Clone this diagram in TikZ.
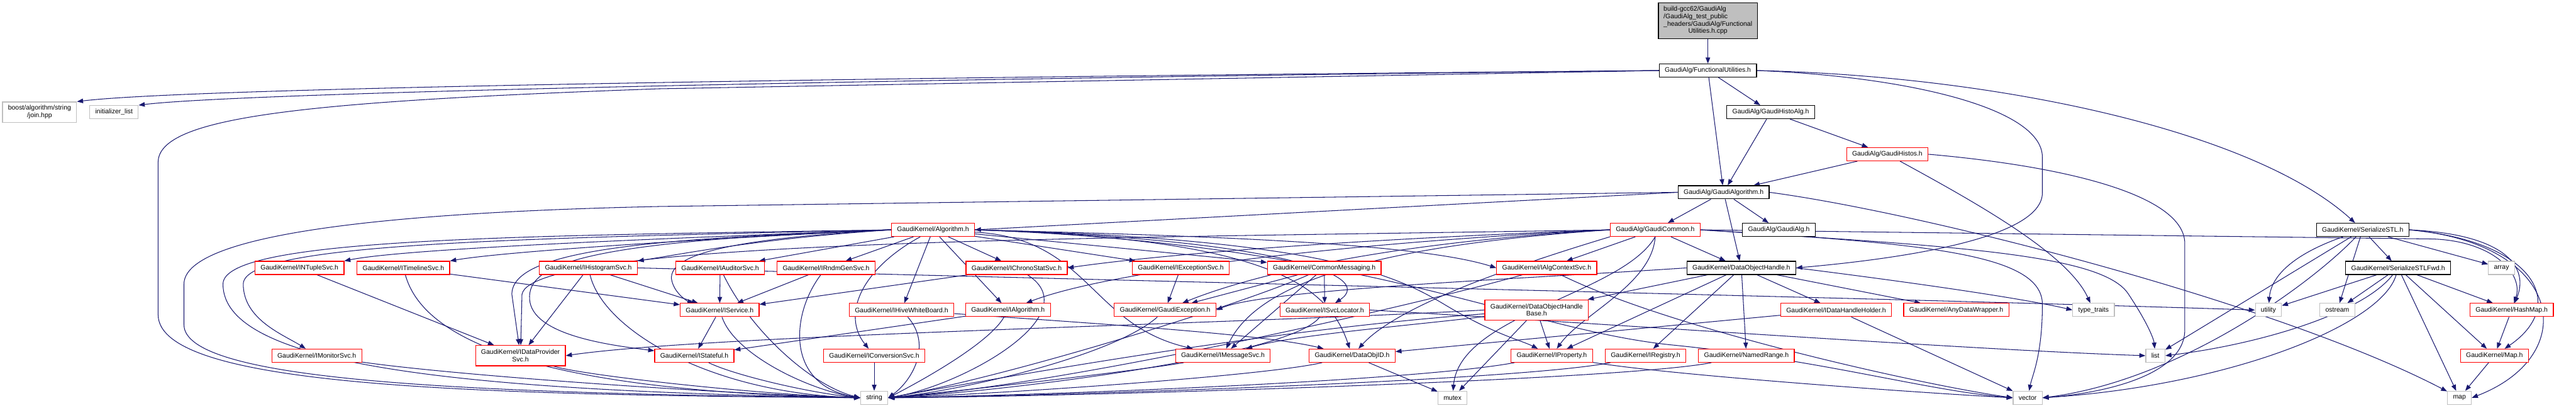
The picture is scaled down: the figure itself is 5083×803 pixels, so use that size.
\documentclass[tikz,border=0pt]{standalone}
\usepackage{fontspec}
\setmainfont{Liberation Sans}
\usetikzlibrary{arrows.meta}
\definecolor{edgec}{RGB}{25,25,112}
\definecolor{grayb}{RGB}{191,191,191}
\definecolor{redb}{RGB}{255,0,0}
\pgfdeclarelayer{bg}
\pgfsetlayers{bg,main}
\begin{document}
\begin{tikzpicture}[x=1pt,y=-1pt,
  font=\fontsize{13}{14.5}\selectfont,
  base/.style={draw, fill=white, line width=1.5pt, inner xsep=11pt, inner ysep=3pt, minimum height=26pt, align=center},
  rn/.style={base, draw=redb},
  bn/.style={base, draw=black},
  gn/.style={base, draw=grayb},
  mainbox/.style={draw=black, fill=grayb, line width=1.5pt, inner xsep=4pt, inner ysep=2pt, minimum width=195pt, minimum height=70pt},
  ed/.style={draw=edgec, line width=1.3pt, -{Triangle[length=12pt,width=9pt]}}]
\useasboundingbox (0,0) rectangle (5083,803);
% nodes
\node[mainbox] (main) at (3370,41) {\begin{tabular}{@{}l@{}}build-gcc62/GaudiAlg\\/GaudiAlg\_test\_public\\\_headers/GaudiAlg/Functional\\\multicolumn{1}{@{}c@{}}{Utilities.h.cpp}\end{tabular}};
\node[bn] (fu) at (3370,139) {GaudiAlg/FunctionalUtilities.h};
\node[gn, minimum height=40pt] (join) at (78,221) {boost/algorithm/string\\/join.hpp};
\node[gn] (init) at (225,221) {initializer\_list};
\node[bn] (gha) at (3494,221) {GaudiAlg/GaudiHistoAlg.h};
\node[rn] (ghs) at (3724,304) {GaudiAlg/GaudiHistos.h};
\node[bn] (galg) at (3401,379) {GaudiAlg/GaudiAlgorithm.h};
\node[rn] (algo) at (1841,453) {GaudiKernel/Algorithm.h};
\node[rn] (gcom) at (3266,453) {GaudiAlg/GaudiCommon.h};
\node[bn] (galgh) at (3510,453) {GaudiAlg/GaudiAlg.h};
\node[bn] (sstl) at (4662,453) {GaudiKernel/SerializeSTL.h};
% row 528
\node[rn] (ntup) at (591,528) {GaudiKernel/INTupleSvc.h};
\node[rn] (tline) at (796,528) {GaudiKernel/ITimelineSvc.h};
\node[rn] (hist) at (1161,528) {GaudiKernel/IHistogramSvc.h};
\node[rn] (aud) at (1421,528) {GaudiKernel/IAuditorSvc.h};
\node[rn] (rndm) at (1630,528) {GaudiKernel/IRndmGenSvc.h};
\node[rn] (chrono) at (2006,528) {GaudiKernel/IChronoStatSvc.h};
\node[rn] (exc) at (2330,528) {GaudiKernel/IExceptionSvc.h};
\node[rn] (cmsg) at (2613,528) {GaudiKernel/CommonMessaging.h};
\node[rn] (actx) at (3052,528) {GaudiKernel/IAlgContextSvc.h};
\node[bn] (doh) at (3436,528) {GaudiKernel/DataObjectHandle.h};
\node[bn] (sfwd) at (4732,528) {GaudiKernel/SerializeSTLFwd.h};
\node[gn] (arr) at (4936,528) {array};
% row 611
\node[rn] (isvc) at (1420,611) {GaudiKernel/IService.h};
\node[rn] (hive) at (1779,611) {GaudiKernel/IHiveWhiteBoard.h};
\node[rn] (ialg) at (1989,611) {GaudiKernel/IAlgorithm.h};
\node[rn] (gexc) at (2299,611) {GaudiKernel/GaudiException.h};
\node[rn] (svcloc) at (2614,611) {GaudiKernel/ISvcLocator.h};
\node[rn, minimum height=40pt] (dohb) at (3032,611) {GaudiKernel/DataObjectHandle\\Base.h};
\node[rn] (dhh) at (3623,611) {GaudiKernel/IDataHandleHolder.h};
\node[rn] (adw) at (3860,611) {GaudiKernel/AnyDataWrapper.h};
\node[gn] (tt) at (4131,611) {type\_traits};
\node[gn] (util) at (4476,611) {utility};
\node[gn] (ostr) at (4612,611) {ostream};
\node[rn] (hmap) at (4956,611) {GaudiKernel/HashMap.h};
% row 701
\node[rn] (mon) at (625,701) {GaudiKernel/IMonitorSvc.h};
\node[rn, minimum height=40pt] (dps) at (1027,701) {GaudiKernel/IDataProvider\\Svc.h};
\node[rn] (stat) at (1370,701) {GaudiKernel/IStateful.h};
\node[rn] (conv) at (1725,701) {GaudiKernel/IConversionSvc.h};
\node[rn] (msg) at (2413,701) {GaudiKernel/IMessageSvc.h};
\node[rn] (doid) at (2668,701) {GaudiKernel/DataObjID.h};
\node[rn] (prop) at (3062,701) {GaudiKernel/IProperty.h};
\node[rn] (reg) at (3247,701) {GaudiKernel/IRegistry.h};
\node[rn] (nr) at (3446,701) {GaudiKernel/NamedRange.h};
\node[gn] (list) at (4253,701) {list};
\node[rn] (mapH) at (4922,701) {GaudiKernel/Map.h};
% row 784
\node[gn] (string) at (1725,784) {string};
\node[gn] (mutex) at (2866,784) {mutex};
\node[gn] (vector) at (4001,784) {vector};
\node[gn] (map) at (4853,784) {map};

\begin{pgfonlayer}{bg}
% top part
\draw[ed] (main) -- (fu);
\draw[ed] (fu.west) .. controls (2000,150) and (400,170) .. (join.north east);
\draw[ed] (fu.west) .. controls (2000,152) and (500,180) .. (init.north east);
\draw[ed] (fu.west) -- (1300,175) .. controls (600,200) and (312,230) .. (312,320) -- (312,620) .. controls (312,760) and (900,778) .. (string.west);
\draw[ed] (fu) -- (gha);
\draw[ed] (fu) -- (galg);
\draw[ed] (fu.east) .. controls (3750,150) and (4030,210) .. (4030,310) -- (4030,380) .. controls (4030,470) and (3750,510) .. (doh.east);
\draw[ed] (fu.east) .. controls (3950,150) and (4450,260) .. (sstl);
\draw[ed] (gha) -- (galg);
\draw[ed] (gha) -- (ghs);
\draw[ed] (ghs) -- (galg);
\draw[ed] (ghs) .. controls (3900,400) and (4080,500) .. (tt);
\draw[ed] (ghs.east) .. controls (4100,330) and (4311,390) .. (4311,480) -- (4311,650) .. controls (4311,740) and (4150,775) .. (vector.east);
\draw[ed] (galg.west) -- (algo.east);
\draw[ed] (galg.west) -- (1300,407) .. controls (700,420) and (363,470) .. (363,560) -- (363,640) .. controls (363,750) and (900,775) .. (string.west);
\draw[ed] (galg) -- (gcom);
\draw[ed] (galg) -- (galgh);
\draw[ed] (galg) -- (doh);
\draw[ed] (galg.east) .. controls (3800,420) and (4500,600) .. (map);
% Algorithm.h
\draw[ed] (algo.west) .. controls (1300,470) and (800,490) .. (ntup.north east);
\draw[ed] (algo.west) .. controls (1400,470) and (1000,495) .. (tline.north east);
\draw[ed] (algo.west) .. controls (1500,470) and (1350,500) .. (hist.north east);
\draw[ed] (algo.west) .. controls (1000,465) and (440,470) .. (440,560) .. controls (440,720) and (900,770) .. (string.west);
\draw[ed] (algo.west) .. controls (1000,470) and (480,480) .. (480,560) .. controls (480,630) and (560,660) .. (mon);
\draw[ed] (algo.west) .. controls (1300,470) and (1010,490) .. (1010,580) -- (dps);
\draw[ed] (algo.west) .. controls (1150,475) and (1040,520) .. (1045,590) .. controls (1050,660) and (1200,680) .. (stat);
\draw[ed] (algo.west) .. controls (1450,470) and (1320,500) .. (1325,550) .. controls (1330,580) and (1360,595) .. (isvc);
\draw[ed] (algo) -- (aud);
\draw[ed] (algo) -- (rndm);
\draw[ed] (algo) -- (chrono);
\draw[ed] (algo) -- (exc);
\draw[ed] (algo) -- (cmsg);
\draw[ed] (algo) -- (hive);
\draw[ed] (algo) -- (ialg);
\draw[ed] (algo) .. controls (1700,530) and (1660,620) .. (conv);
\draw[ed] (algo) .. controls (2150,470) and (2150,640) .. (msg);
\draw[ed] (algo.east) .. controls (2400,465) and (2800,480) .. (actx.west);
\draw[ed] (algo.east) .. controls (2600,470) and (2750,540) .. (2850,600) .. controls (2950,660) and (3000,670) .. (prop);
\draw[ed] (algo.east) .. controls (2500,470) and (2620,560) .. (doid);
\draw[ed] (algo.east) .. controls (2500,470) and (2720,540) .. (svcloc);
\draw[ed] (algo.east) .. controls (2700,480) and (3000,650) .. (3300,680) .. controls (3600,710) and (3800,770) .. (vector.west);
% GaudiCommon.h
\draw[ed] (gcom.west) .. controls (2700,470) and (2300,500) .. (chrono.east);
\draw[ed] (gcom) -- (actx);
\draw[ed] (gcom) -- (doh);
\draw[ed] (gcom.west) .. controls (2700,475) and (2200,530) .. (ialg);
\draw[ed] (gcom.west) .. controls (2700,480) and (2450,550) .. (gexc);
\draw[ed] (gcom.west) .. controls (2700,485) and (2480,560) .. (msg);
\draw[ed] (gcom.west) .. controls (2200,470) and (1050,470) .. (1030,580) -- (dps);
\draw[ed] (gcom.south west) .. controls (3000,520) and (2760,600) .. (doid);
\draw[ed] (gcom.south) .. controls (3200,580) and (2880,620) .. (mutex);
\draw[ed] (gcom.south) .. controls (3260,560) and (3120,620) .. (prop);
\draw[ed] (gcom.east) -- (4800,471) .. controls (4920,475) and (4980,540) .. (hmap);
\draw[ed] (gcom.east) .. controls (3800,480) and (4030,500) .. (4030,600) .. controls (4030,700) and (4010,740) .. (vector);
\draw[ed] (gcom.east) .. controls (3850,485) and (4150,500) .. (4200,580) .. controls (4240,640) and (4250,670) .. (list);
% DataObjectHandle.h
\draw[ed] (doh) -- (dohb);
\draw[ed] (doh) -- (dhh);
\draw[ed] (doh) -- (adw);
\draw[ed] (doh) -- (prop);
\draw[ed] (doh) -- (reg);
\draw[ed] (doh) -- (nr);
\draw[ed] (doh.east) .. controls (3800,560) and (4000,590) .. (tt.west);
\draw[ed] (doh.west) .. controls (3000,550) and (2500,570) .. (gexc.east);
% DataObjectHandleBase.h
\draw[ed] (dohb) -- (prop);
\draw[ed] (dohb) -- (mutex);
\draw[ed] (dohb) .. controls (2800,640) and (2550,660) .. (msg);
\draw[ed] (dohb.west) .. controls (2400,640) and (1400,660) .. (dps.east);
\draw[ed] (dohb) .. controls (2500,650) and (2000,740) .. (string.east);
% misc
\draw[ed] (dhh) -- (doid);
\draw[ed] (dhh) -- (vector);
\draw[ed] (cmsg) -- (svcloc);
\draw[ed] (cmsg) -- (msg);
\draw[ed] (cmsg) -- (gexc);
\draw[ed] (cmsg) .. controls (2450,600) and (2000,740) .. (string.east);
\draw[ed] (svcloc) .. controls (2550,700) and (2000,770) .. (string.east);
\draw[ed] (svcloc.east) .. controls (3200,640) and (3900,690) .. (list.west);
\draw[ed] (exc) -- (gexc);
\draw[ed] (gexc) .. controls (2200,700) and (1900,770) .. (string.east);
\draw[ed] (chrono) .. controls (2150,620) and (1900,760) .. (string.east);
\draw[ed] (chrono) -- (isvc);
\draw[ed] (aud) -- (isvc);
\draw[ed] (aud) .. controls (1480,650) and (1600,760) .. (string.west);
\draw[ed] (rndm) -- (isvc);
\draw[ed] (rndm) .. controls (1560,620) and (1550,760) .. (string.west);
\draw[ed] (isvc) -- (stat);
\draw[ed] (isvc) .. controls (1450,700) and (1600,770) .. (string.west);
\draw[ed] (stat) .. controls (1450,740) and (1600,775) .. (string.west);
\draw[ed] (ialg) -- (stat);
\draw[ed] (ialg) .. controls (1950,680) and (1800,760) .. (string.east);
\draw[ed] (hive) .. controls (2200,640) and (2500,660) .. (doid);
\draw[ed] (hive) .. controls (1840,680) and (1800,750) .. (string.east);
\draw[ed] (conv) -- (string);
\draw[ed] (msg) .. controls (2250,730) and (1900,770) .. (string.east);
\draw[ed] (doid) .. controls (2500,740) and (2000,775) .. (string.east);
\draw[ed] (doid) -- (mutex);
\draw[ed] (prop) .. controls (2800,750) and (2100,778) .. (string.east);
\draw[ed] (prop) .. controls (3300,740) and (3800,775) .. (vector.west);
\draw[ed] (reg) .. controls (3000,750) and (2100,780) .. (string.east);
\draw[ed] (nr) .. controls (3200,750) and (2100,782) .. (string.east);
\draw[ed] (ntup) -- (dps);
\draw[ed] (tline) .. controls (830,650) and (1000,770) .. (string.west);
\draw[ed] (tline) -- (isvc);
\draw[ed] (hist) -- (dps);
\draw[ed] (hist) -- (isvc);
\draw[ed] (hist.east) .. controls (2500,560) and (3800,590) .. (util.west);
\draw[ed] (hist) .. controls (1190,650) and (1400,775) .. (string.west);
\draw[ed] (mon) .. controls (900,740) and (1400,775) .. (string.west);
\draw[ed] (dps) .. controls (1150,740) and (1500,778) .. (string.west);
\draw[ed] (actx) .. controls (2800,600) and (2100,760) .. (string.east);
\draw[ed] (actx) .. controls (3300,650) and (3800,760) .. (vector.west);
% SerializeSTL
\draw[ed] (sstl) -- (sfwd);
\draw[ed] (sstl) -- (arr);
\draw[ed] (sstl) -- (list);
\draw[ed] (sstl) -- (ostr);
\draw[ed] (sstl) .. controls (4500,510) and (4480,560) .. (util);
\draw[ed] (sstl) .. controls (4560,560) and (4300,750) .. (vector.east);
\draw[ed] (sstl.east) .. controls (4950,462) and (4990,530) .. (hmap);
\draw[ed] (sstl.east) .. controls (5000,475) and (5070,600) .. (mapH);
\draw[ed] (sstl.east) .. controls (5060,480) and (5095,700) .. (map.east);
\draw[ed] (sfwd) -- (util);
\draw[ed] (sfwd) -- (ostr);
\draw[ed] (sfwd) -- (hmap);
\draw[ed] (sfwd) -- (mapH);
\draw[ed] (sfwd) -- (map);
\draw[ed] (sfwd) .. controls (4700,640) and (4400,760) .. (vector.east);
\draw[ed] (sfwd) .. controls (4660,620) and (4450,680) .. (list.east);
\draw[ed] (hmap) -- (mapH);
\draw[ed] (mapH) -- (map);
\end{pgfonlayer}
\end{tikzpicture}
\end{document}
